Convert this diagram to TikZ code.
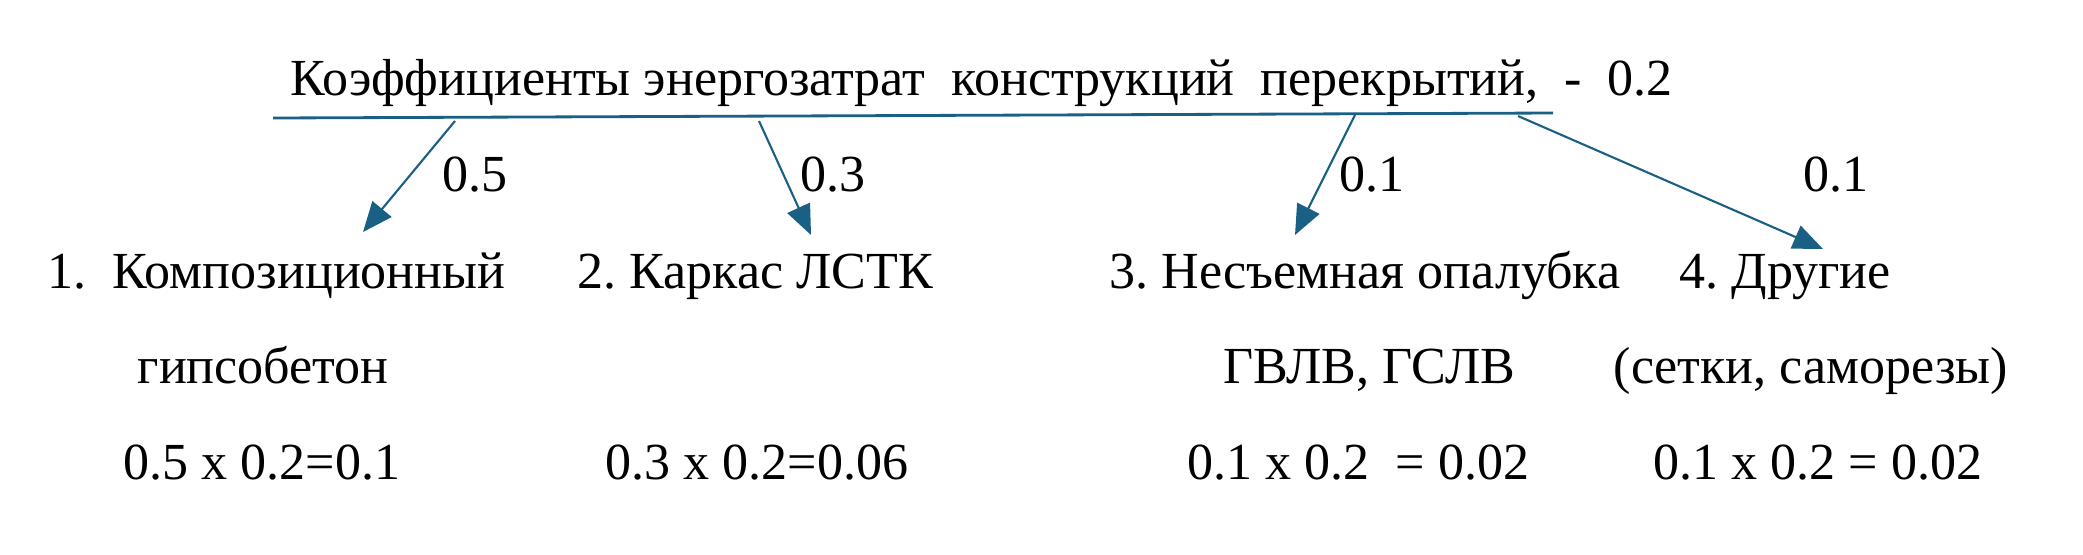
\documentclass[tikz,border=0pt]{standalone}
\usepackage{fontspec}
\setmainfont{Liberation Serif}
\usetikzlibrary{arrows.meta}
\definecolor{linkblue}{HTML}{1A6085}
\frenchspacing

\begin{document}
\begin{tikzpicture}[x=0.01cm,y=-0.01cm,
    txt/.style={anchor=base west,inner sep=0pt,font=\fontsize{14.8}{18}\selectfont},
    link/.style={draw=linkblue,line width=0.6pt,-{Triangle[length=8.5pt,width=7pt]}}]

            \useasboundingbox (0,0) rectangle (2083,554);

            \node[txt] (title) at (290,95) {Коэффициенты энергозатрат\ \ конструкций\ \ перекрытий,\ \ -\ \ 0.2};
            \draw[linkblue,line width=0.8pt] (273,118) coordinate (ul) -- (1553,113) coordinate (ur);

            \coordinate (s1) at (455,121);
            \coordinate (s2) at (759,121);
            \coordinate (s3) at (1355,115);
            \coordinate (s4) at (1518,116);

            \coordinate (t1) at (363,232);
            \coordinate (t2) at (811,235);
            \coordinate (t3) at (1295,235);
            \coordinate (t4) at (1823,249);

            \draw[link] (s1) -- (t1);
            \draw[link] (s2) -- (t2);
            \draw[link] (s3) -- (t3);
            \draw[link] (s4) -- (t4);

            \node[txt] (w1) at (442,191) {0.5};
            \node[txt] (w2) at (800,191) {0.3};
            \node[txt] (w3) at (1339,191) {0.1};
            \node[txt] (w4) at (1803,191) {0.1};

            \node[txt] (comp) at (47,288) {1.\ \ Композиционный};
            \node[txt] (frame) at (577,288) {2. Каркас ЛСТК};
            \node[txt] (form) at (1109,288) {3. Несъемная опалубка};
            \node[txt] (other) at (1679,288) {4. Другие};

            \node[txt] (comp2) at (137,383) {гипсобетон};
            \node[txt] (form2) at (1223,383) {ГВЛВ, ГСЛВ};
            \node[txt] (other2) at (1613,383) {(сетки, саморезы)};

            \node[txt] (comp3) at (123,479) {0.5 x 0.2=0.1};
            \node[txt] (frame3) at (605,479) {0.3 x 0.2=0.06};
            \node[txt] (form3) at (1187,479) {0.1 x 0.2\ \ = 0.02};
            \node[txt] (other3) at (1653,479) {0.1 x 0.2 = 0.02};

            \end{tikzpicture}
\end{document}
